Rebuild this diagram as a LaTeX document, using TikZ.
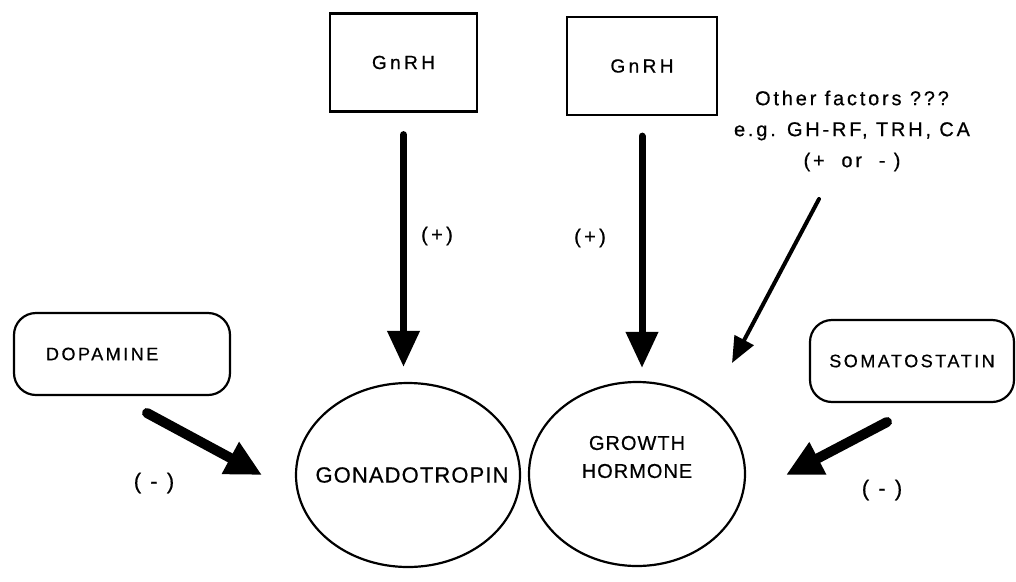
\documentclass[tikz,border=0pt]{standalone}
\usepackage{fontspec}
\usetikzlibrary{arrows.meta,shapes.geometric}
\newfontfamily\labwide[LetterSpace=18,FakeBold=0.6]{Liberation Sans}
\newfontfamily\labmid[LetterSpace=14,FakeBold=0.6]{Liberation Sans}
\newfontfamily\labnar[LetterSpace=5,FakeBold=0.6]{Liberation Sans}
\tikzset{
  sqbox/.style={draw, line width=2.2pt, minimum width=#1, minimum height=98pt, inner sep=0pt,
    font={\labwide\fontsize{19}{22}\selectfont}},
  rbox/.style={draw, line width=2.2pt, rounded corners=22pt, minimum height=82pt, inner sep=0pt,
    font={\labmid\fontsize{18}{21}\selectfont}},
  oval/.style={draw, ellipse, line width=2.2pt, inner sep=0pt},
  txt/.style={inner sep=0pt, text=black},
  bigarrow/.style={line width=7pt, line cap=round, -{Triangle[length=36pt,width=31pt]}},
  fatarrow/.style={line width=10pt, line cap=round, -{Triangle[length=36pt,width=34pt]}},
  thinarrow/.style={line width=4pt, line cap=round, -{Triangle[length=26pt,width=21pt]}}
}
\begin{document}
\begin{tikzpicture}[x=1pt,y=-1pt]
\useasboundingbox (0,0) rectangle (1016,581);
% boxes
\node[sqbox=147pt] (gl) at (403.5,62.5) {GnRH};
\node[sqbox=150pt] (gr) at (642,66) {GnRH};
\node[rbox, minimum width=216pt, text width=152pt, align=left, inner xsep=29pt] (dop) at (122,354) {DOPAMINE};
\node[rbox, minimum width=204pt] (som) at (912,361) {SOMATOSTATIN};
% ellipses
\node[oval, minimum width=224pt, minimum height=184pt] (gon) at (408,475) {};
\node[oval, minimum width=216pt, minimum height=184pt] (gh) at (637,474) {};
\node[txt, font={\labnar\fontsize{22}{26}\selectfont}] (gontxt) at (412,475) {GONADOTROPIN};
\node[txt, align=center, font={\labnar\fontsize{20}{28}\selectfont}] (ghtxt) at (637,457) {GROWTH\\HORMONE};
% other factors
\node[txt, align=center, font={\labmid\fontsize{20}{31}\selectfont}] (other) at (852,131)
  {Other factors ???\\e.g. GH-RF, TRH, CA\\(+ \ or \ - )};
% signs
\node[txt, font={\labmid\fontsize{20}{24}\selectfont}] (pl) at (437,236) {(\,+\,)};
\node[txt, font={\labmid\fontsize{20}{24}\selectfont}] (pr) at (590,238) {(\,+\,)};
\node[txt, font={\labmid\fontsize{22}{26}\selectfont}] (ml) at (154,483) {( - )};
\node[txt, font={\labmid\fontsize{22}{26}\selectfont}] (mr) at (882,490) {( - )};
% arrows
\draw[bigarrow, shorten <=22pt, shorten >=15pt] (gl.south) -- (gl.south |- gon.north);
\draw[bigarrow, shorten <=20pt, shorten >=13pt] (gr.south) -- (gr.south |- gh.north);
\coordinate (ofs) at (819,199);
\coordinate (ofe) at (732,363);
\draw[thinarrow] (ofs) -- (ofe);
\coordinate (dps) at (147,413);
\coordinate (dpe) at (262,475);
\draw[fatarrow] (dps) -- (dpe);
\coordinate (sms) at (887,422);
\coordinate (sme) at (786,475);
\draw[fatarrow] (sms) -- (sme);
\end{tikzpicture}
\end{document}
